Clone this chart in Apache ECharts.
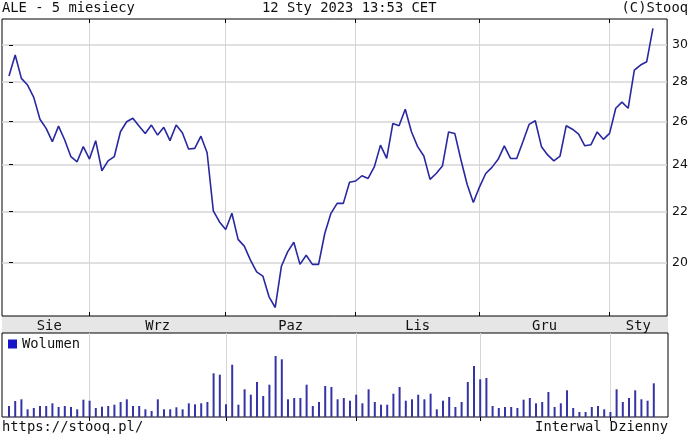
<!DOCTYPE html>
<html>
<head>
<meta charset="utf-8">
<script src="https://cdn.jsdelivr.net/npm/echarts@6/dist/echarts.min.js"></script>
<style>
html,body{margin:0;padding:0;background:#fff;}
#c{width:691px;height:437px;}
</style>
</head>
<body>
<div id="c"></div>
<script>
// ---- data (trading days per month, ALE daily close, volume in arbitrary units) ----
const daysAug = [12,16,17,18,19,22,23,24,25,26,29,30,31];
const daysSep = [1,2,5,6,7,8,9,12,13,14,15,16,19,20,21,22,23,26,27,28,29,30];
const daysOct = [3,4,5,6,7,10,11,12,13,14,17,18,19,20,21,24,25,26,27,28,31];
const daysNov = [2,3,4,7,8,9,10,14,15,16,17,18,21,22,23,24,25,28,29,30];
const daysDec = [1,2,5,6,7,8,9,12,13,14,15,16,19,20,21,22,23,27,28,29,30];
const daysJan = [2,3,4,5,9,10,11,12];
const monthNames = ['Sie','Wrz','Paz','Lis','Gru','Sty'];
const monthKeys = ['2022-08','2022-09','2022-10','2022-11','2022-12','2023-01'];

const prices = [
 28.31,29.45,28.19,27.84,27.21,26.12,25.68,25.05,25.79,25.13,
 24.36,24.13,24.82,24.25,25.10,23.73,24.17,24.36,25.52,26.00,
 26.17,25.79,25.44,25.84,25.36,25.73,25.10,25.84,25.47,24.71,
 24.74,25.31,24.54,22.02,21.57,21.27,21.92,20.88,20.62,20.09,
 19.65,19.50,18.76,18.39,19.86,20.40,20.77,19.93,20.27,19.93,
 19.93,21.11,21.92,22.33,22.33,23.23,23.28,23.51,23.39,23.90,
 24.89,24.28,25.92,25.81,26.61,25.52,24.82,24.39,23.35,23.61,
 23.94,25.51,25.44,24.21,23.13,22.37,23.03,23.61,23.88,24.24,
 24.86,24.28,24.28,25.05,25.87,26.05,24.82,24.44,24.17,24.39,
 25.81,25.64,25.41,24.86,24.91,25.51,25.16,25.44,26.66,26.97,
 26.66,28.63,28.90,29.08,30.95
];
const volumes = [
 11,16,17.7,7.7,9,11,11,13.7,10,11,
 10,7.7,17.3,16.3,9,10.3,11,12.3,15,17.7,
 11,11,7.7,6,17.7,7.7,7.7,9.7,7.7,13.7,
 12.7,13.7,15,43.7,42.3,12.7,52.3,12.3,27.7,22.3,
 35,21,32.3,61,57.7,17.7,19,19,32.3,11,
 15,31,30,17.7,19,16.3,22.3,13.7,27.7,15,
 12.3,12.3,23.3,30,16.3,17.7,22.3,17.7,23.3,7.7,
 16.3,20,10,15,35,51,37.7,39,11,9,
 10,10,9,17.3,19,13.7,15,25,10,13.7,
 26.7,9,5,5,10,11,7.7,5,27.7,15,
 19,26.7,17.7,16.3,33.7
];
const priceTicks = [20,22,24,26,28,30];

// ---- derived ----
const monthDays = [daysAug,daysSep,daysOct,daysNov,daysDec,daysJan];
const dates = [];
monthDays.forEach((arr,m)=>arr.forEach(d=>dates.push(monthKeys[m]+'-'+String(d).padStart(2,'0'))));
const monthStartIdx = [];
let acc = 0;
monthDays.forEach(arr=>{monthStartIdx.push(acc); acc += arr.length;});
const xMin = -1.13, xMax = dates.length + 1.29;
const gridStarts = monthStartIdx.slice(1);
const labelPos = monthStartIdx.map((s,k)=> (s + (k < monthStartIdx.length-1 ? monthStartIdx[k+1] : xMax)) / 2);

const mono = 'DejaVu Sans Mono';
const fs = 13.8;
const gridColor = '#d6d6d6';

const chart = echarts.init(document.getElementById('c'), null, {renderer:'canvas'});
chart.setOption({
  animation:false,
  backgroundColor:'#fff',
  title:[
    {text:'ALE - 5 miesiecy', left:2, top:1, padding:0, textStyle:{fontFamily:mono,fontSize:fs,fontWeight:'normal',color:'#111'}},
    {text:'12 Sty 2023 13:53 CET', left:262, top:1, padding:0, textStyle:{fontFamily:mono,fontSize:fs,fontWeight:'normal',color:'#111'}},
    {text:'(C)Stooq', right:3, top:1, padding:0, textStyle:{fontFamily:mono,fontSize:fs,fontWeight:'normal',color:'#111'}},
    {text:'https://stooq.pl/', left:2, top:420, padding:0, textStyle:{fontFamily:mono,fontSize:fs,fontWeight:'normal',color:'#111'}},
    {text:'Interwal Dzienny', right:23, top:420, padding:0, textStyle:{fontFamily:mono,fontSize:fs,fontWeight:'normal',color:'#111'}}
  ],
  legend:{
    data:[{name:'Wolumen', itemStyle:{color:'#1616c8'}}],
    left:8, top:337, padding:0, itemWidth:9, itemHeight:9, icon:'rect',
    textStyle:{fontFamily:mono,fontSize:fs,color:'#111'}
  },
  graphic:[
    {type:'rect', z:-10, shape:{x:2, y:316, width:666, height:17}, style:{fill:'#e6e6e6'}}
  ],
  grid:[
    {left:2, right:23, top:19, height:297, show:true, borderColor:'#000', borderWidth:1, backgroundColor:'#fff'},
    {left:2, right:23, top:333, height:84, show:true, borderColor:'#000', borderWidth:1, backgroundColor:'#fff'}
  ],
  xAxis:[
    {type:'value', gridIndex:0, position:'bottom', min:xMin, max:xMax,
     axisLine:{show:false},
     axisTick:{show:true, inside:true, length:4, customValues:gridStarts, lineStyle:{color:'#000'}},
     axisLabel:{show:true, customValues:labelPos, margin:3, fontFamily:mono, fontSize:fs, color:'#111',
       formatter:(v)=>{const k = labelPos.findIndex(p=>Math.abs(p-v)<0.01); return k>=0?monthNames[k]:'';}},
     splitLine:{show:true, lineStyle:{color:gridColor, width:1}}},
    {type:'value', gridIndex:0, position:'top', min:xMin, max:xMax,
     axisLine:{show:false},
     axisTick:{show:true, inside:true, length:4, customValues:gridStarts, lineStyle:{color:'#000'}},
     axisLabel:{show:false}, splitLine:{show:false}},
    {type:'value', gridIndex:1, position:'top', min:xMin, max:xMax,
     axisLine:{show:false},
     axisTick:{show:true, inside:true, length:4, customValues:gridStarts, lineStyle:{color:'#000'}},
     axisLabel:{show:false},
     splitLine:{show:true, lineStyle:{color:gridColor, width:1}}}
  ],
  yAxis:[
    {type:'log', gridIndex:0, position:'right', min:18.10, max:31.49, logBase:10,
     axisLine:{show:false},
     axisTick:{show:true, length:4, customValues:priceTicks, lineStyle:{color:'#000'}},
     axisLabel:{show:true, customValues:priceTicks, margin:5, fontFamily:'DejaVu Sans', fontSize:12.5, color:'#111',
       formatter:(v)=>String(Math.round(v))},
     splitLine:{show:true, lineStyle:{color:gridColor, width:1.5}}},
    {type:'value', gridIndex:1, min:0, max:84, show:false, splitLine:{show:false}}
  ],
  series:[
    {name:'ALE', type:'line', xAxisIndex:0, yAxisIndex:0, z:3, showSymbol:false, symbol:'none',
     lineStyle:{color:'#2828a0', width:1.6}, itemStyle:{color:'#2828a0'},
     data:prices.map((v,i)=>[i,v])},
    {name:'Wolumen', type:'bar', xAxisIndex:2, yAxisIndex:1, barWidth:2, z:3,
     itemStyle:{color:'#3434a6'},
     data:volumes.map((v,i)=>[i,v])}
  ]
});
</script>
</body>
</html>
